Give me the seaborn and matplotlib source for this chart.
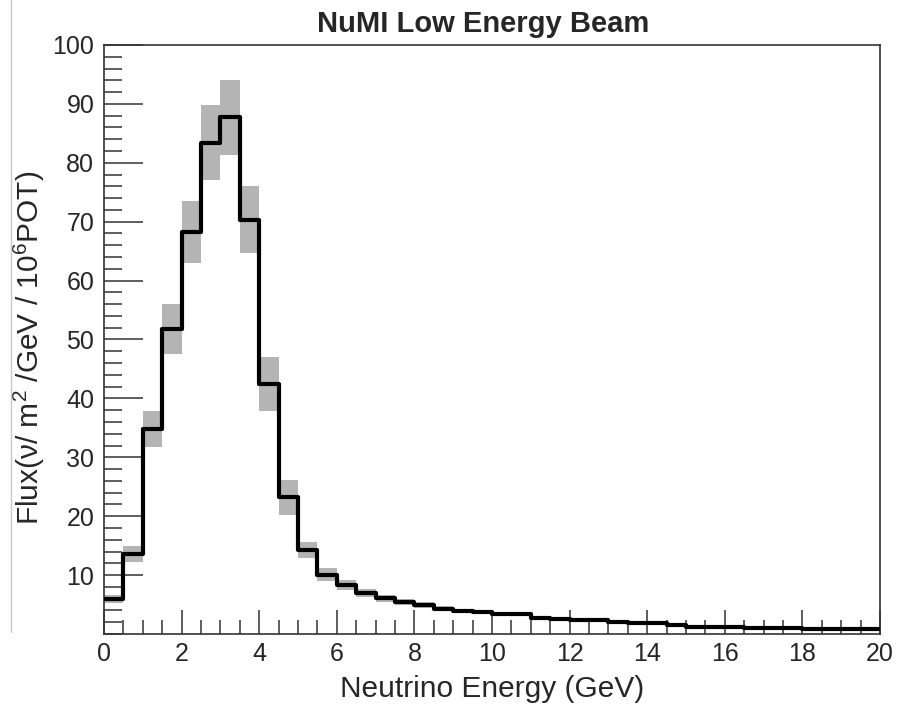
import numpy as np
import matplotlib
matplotlib.use("Agg")
import matplotlib.pyplot as plt
import seaborn as sns
from matplotlib.ticker import MultipleLocator, FixedLocator

# ---- data ----
bin_edges = [i * 0.5 for i in range(41)]
flux = [5.9, 13.6, 34.8, 51.8, 68.2, 83.4, 87.7, 70.3, 42.5, 23.2,
        14.3, 10.1, 8.3, 6.9, 6.1, 5.5, 4.9, 4.3, 3.9, 3.7,
        3.4, 3.4, 2.7, 2.5, 2.3, 2.3, 2.0, 1.8, 1.8, 1.55,
        1.25, 1.25, 1.25, 0.95, 0.95, 0.95, 0.8, 0.8, 0.8, 0.8]
flux_err = [0.7, 1.4, 3.0, 4.2, 5.3, 6.4, 6.4, 5.7, 4.6, 3.0,
            1.4, 1.1, 0.8, 0.7, 0.6, 0.5, 0.45, 0.4, 0.35, 0.3,
            0.3, 0.3, 0.25, 0.2, 0.2, 0.2, 0.15, 0.15, 0.15, 0.12,
            0.1, 0.1, 0.1, 0.08, 0.08, 0.08, 0.07, 0.07, 0.07, 0.07]
xticks = [0, 2, 4, 6, 8, 10, 12, 14, 16, 18, 20]
yticks = [10, 20, 30, 40, 50, 60, 70, 80, 90, 100]
title = "NuMI Low Energy Beam"
xlabel = "Neutrino Energy (GeV)"
ylabel = "Flux(\u03bd/ m$^{2}$ /GeV / 10$^{6}$POT)"

sns.set_theme(style="ticks")
plt.rcParams['font.family'] = ['Liberation Sans', 'DejaVu Sans']
plt.rcParams['mathtext.fontset'] = 'custom'
plt.rcParams['mathtext.rm'] = 'Liberation Sans'
plt.rcParams['mathtext.it'] = 'Liberation Sans:italic'

fig = plt.figure(figsize=(9.0, 7.08), dpi=100)
ax = fig.add_axes([0.1156, 0.1045, 0.8622, 0.832])

centers = [(bin_edges[i] + bin_edges[i + 1]) / 2 for i in range(len(flux))]
lows = [f - e for f, e in zip(flux, flux_err)]
heights = [2 * e for e in flux_err]

# error bands
ax.bar(centers, heights, bottom=lows, width=0.5, color='#b4b4b4',
       edgecolor='none', align='center', zorder=1)

# histogram step line
sns.histplot(x=centers, weights=flux, bins=bin_edges, element='step',
             fill=False, color='black', linewidth=3.0, ax=ax, zorder=3)

ax.set_xlim(0, 20)
ax.set_ylim(0, 100)
ax.xaxis.set_major_locator(FixedLocator(xticks))
ax.xaxis.set_minor_locator(MultipleLocator(0.5))
ax.yaxis.set_major_locator(FixedLocator(yticks))
ax.yaxis.set_minor_locator(MultipleLocator(2))
ax.tick_params(axis='both', which='both', direction='in', color='#333333',
               width=1.1, top=False, right=False)
ax.tick_params(axis='x', which='major', length=17, labelsize=18, pad=6)
ax.tick_params(axis='x', which='minor', length=10)
ax.tick_params(axis='y', which='major', length=28, labelsize=18, pad=7)
ax.tick_params(axis='y', which='minor', length=13)
for s in ax.spines.values():
    s.set_visible(True)
    s.set_color('#333333')
    s.set_linewidth(1.2)

ax.set_xlabel(xlabel, fontsize=21.5, labelpad=6)
ax.set_ylabel(ylabel, fontsize=21.5)
ax.yaxis.set_label_coords(-0.073, 0.485)
ax.set_title(title, fontsize=21, fontweight='bold', pad=9, x=0.488)

# faint border line on the left of the image
fig.add_artist(plt.Line2D([0.012, 0.012], [1 - 632 / 708, 1.0],
                          color='#c8c8c8', linewidth=1.0))

fig.savefig('out.png', dpi=100, facecolor='white')
